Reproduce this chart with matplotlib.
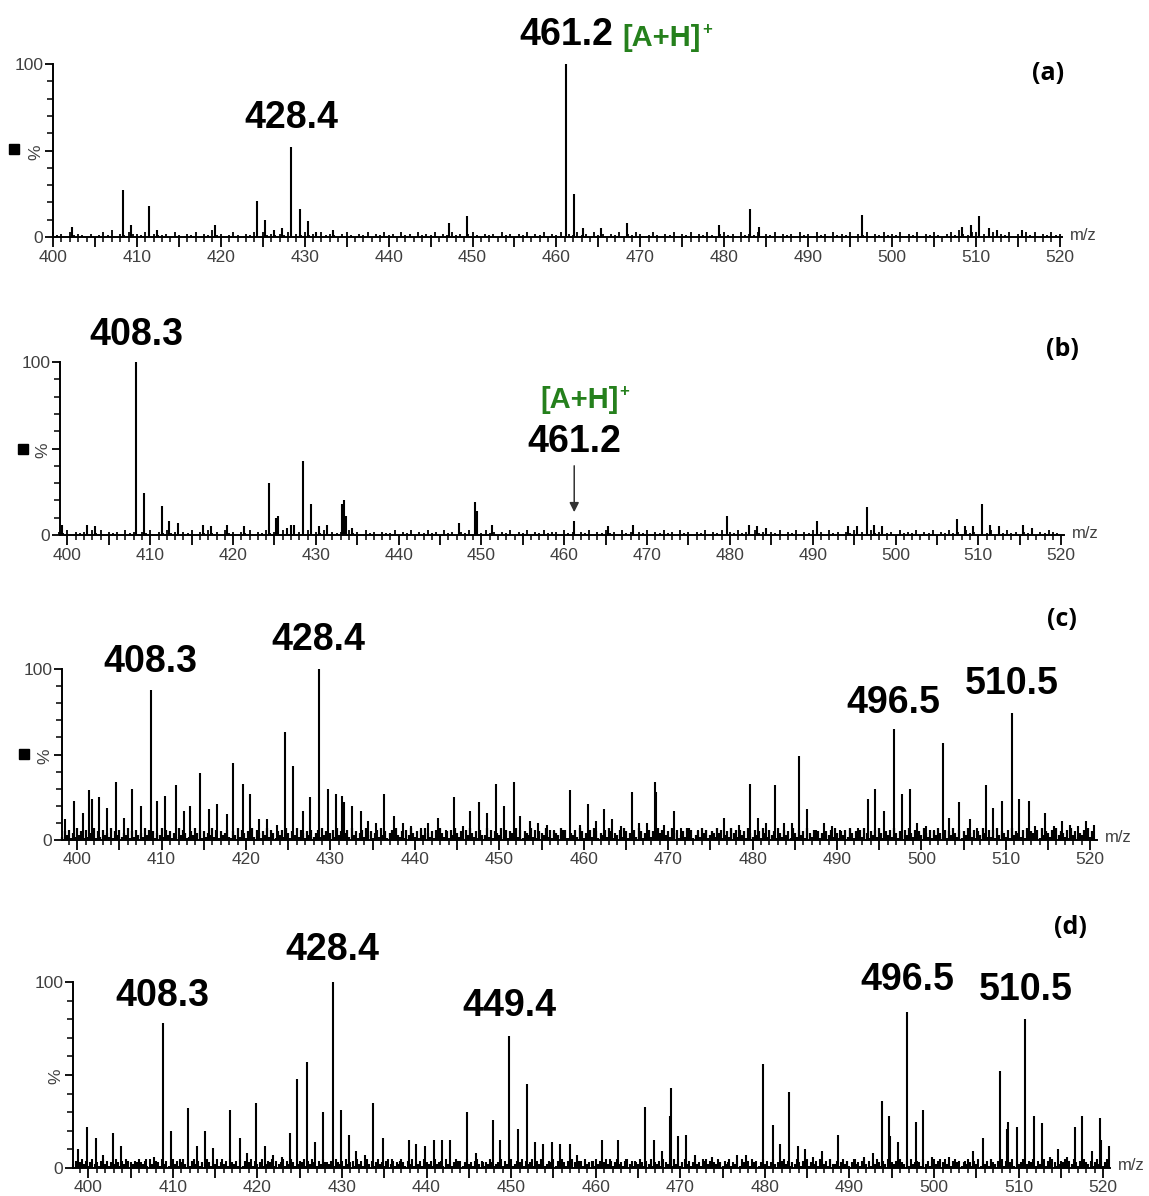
import matplotlib.pyplot as plt
import numpy as np
from matplotlib.ticker import MultipleLocator, FuncFormatter

plt.rcParams['font.family'] = ['Liberation Sans', 'DejaVu Sans']

W, H = 1149, 1196

# ---- panel (a) ----
a_peaks = [(402.3, 6), (408.3, 27), (409.3, 7), (411.4, 18), (412.4, 4), (419.3, 7),
           (424.3, 21), (425.3, 10), (426.3, 4), (427.3, 5), (428.4, 52), (429.4, 16),
           (430.4, 9), (431.3, 3), (433.4, 4), (447.2, 8), (449.3, 12), (461.2, 100),
           (462.1, 25), (463.2, 5), (465.3, 5), (468.4, 8), (479.4, 7), (483.1, 16),
           (484.2, 6), (496.4, 13), (508.3, 6), (509.4, 7), (510.4, 12), (511.5, 5),
           (512.5, 4), (515.5, 4)]
a_noise = ("31203121020131402132" "21302112031021302141" "20131021303121213021"
           "31203121023102130213" "12031203121302131202" "31021203120213021302"
           "13021312031202130213" "20131021302130213102" "31203121302130212031"
           "20312031213021302131" "21302130213102314213" "30213121302131302131" "2")
a_labels = [('461.2', 0, 29), ('428.4', 0, 29)]

# ---- panel (b) ----
b_peaks = [(399.3, 6), (402.4, 6), (403.3, 5), (408.3, 100), (409.3, 24), (411.4, 17),
           (412.3, 8), (413.3, 7), (416.4, 6), (417.3, 5), (419.3, 6), (421.3, 5),
           (424.3, 30), (425.2, 10), (425.4, 11), (426.5, 4), (427.0, 6), (427.3, 6),
           (428.4, 43), (429.4, 18), (430.4, 5), (431.4, 6), (433.2, 18), (433.4, 20),
           (433.6, 11), (434.4, 4), (447.3, 7), (449.2, 19), (449.4, 14), (451.3, 6),
           (461.2, 8), (465.3, 5), (468.3, 6), (479.6, 11), (482.3, 6), (483.3, 5),
           (484.3, 4), (490.5, 8), (494.3, 5), (495.3, 5), (496.5, 16), (497.4, 6),
           (498.4, 5), (507.4, 9), (508.4, 5), (509.4, 5), (510.5, 18), (511.4, 6),
           (512.5, 5), (515.4, 6), (516.5, 4)]
b_noise = ("2130212031302120312021302131202130213120"
           "3120213021312031202130213021203120312021"
           "1302130213120312021302131202130213021312"
           "2031202130213120312021302131203120213021"
           "3021312031202130213021312031202130213120"
           "1203121302130213120312021302131202130213" "21")
b_labels = [('408.3', 0, 27)]

# ---- panel (c) ----
c_peaks = [(398.6, 12), (399.6, 23), (400.7, 16), (401.4, 29), (401.7, 24), (402.6, 25),
           (403.5, 19), (404.6, 34), (405.5, 13), (406.5, 30), (407.5, 20), (408.7, 88),
           (409.5, 23), (410.4, 26), (411.7, 32), (412.7, 17), (413.4, 20), (414.5, 39),
           (415.6, 18), (416.6, 21), (417.7, 15), (418.5, 45), (419.6, 33), (420.5, 27),
           (421.5, 12), (422.5, 12), (423.7, 9), (424.6, 63), (425.6, 43), (426.7, 17),
           (427.6, 25), (428.6, 100), (429.7, 30), (430.6, 27), (431.4, 26), (431.6, 22),
           (432.5, 20), (433.6, 17), (434.5, 11), (435.4, 10), (436.4, 27), (437.5, 14),
           (438.6, 10), (439.5, 8), (440.7, 7), (441.5, 10), (442.7, 13), (443.7, 6),
           (444.6, 25), (445.7, 8), (446.5, 17), (447.6, 22), (448.5, 16), (449.6, 33),
           (450.6, 20), (451.7, 34), (452.5, 14), (453.6, 11), (454.6, 10), (455.6, 9),
           (456.5, 6), (457.5, 6), (458.4, 29), (459.5, 9), (460.5, 21), (461.5, 11),
           (462.4, 18), (463.3, 12), (464.4, 8), (465.7, 28), (466.6, 10), (467.5, 10),
           (468.5, 34), (468.6, 28), (469.5, 9), (470.7, 17), (471.5, 7), (472.5, 7),
           (473.5, 6), (474.5, 6), (475.4, 4), (476.6, 13), (477.5, 7), (478.4, 9),
           (479.7, 33), (480.7, 13), (481.6, 10), (482.7, 32), (483.7, 10), (484.7, 10),
           (485.5, 49), (486.4, 18), (487.5, 6), (488.5, 10), (489.4, 8), (490.4, 6),
           (491.5, 6), (492.5, 7), (493.7, 24), (494.5, 30), (495.6, 17), (496.7, 65),
           (497.7, 27), (498.6, 30), (499.5, 10), (500.6, 8), (501.5, 6), (502.5, 57),
           (503.3, 13), (504.4, 22), (505.7, 12), (506.6, 7), (507.6, 32), (508.5, 19),
           (509.6, 23), (510.7, 74), (511.6, 24), (512.7, 23), (513.5, 8), (514.6, 16),
           (515.7, 8), (516.6, 11), (517.6, 9), (518.5, 8), (519.5, 11), (520.5, 9)]
c_noise = ("2536142735162437152634271536243715263427"
           "3625143726351427364125374615243726153462"
           "1537264153726415372641536274153726415362"
           "4627351462735146273514627351462735146273"
           "2516374251637425163742516374251637425163"
           "3726154372615437261543726154372615437261"
           "1436275143627514362751436275143627514362"
           "5274613527461352746135274613527461352746"
           "2635174263517426351742635174263517426351"
           "4153627415362741536274153627415362741536"
           "3742615374261537426153742615374261537426"
           "2617354261735426173542617354261735426173"
           "524361725")
c_labels = [('408.3', 0, 28), ('428.4', 0, 29), ('496.5', 0, 26), ('510.5', 0, 29)]

# ---- panel (d) ----
d_peaks = [(398.8, 10), (399.8, 22), (400.9, 16), (401.8, 7), (402.9, 19), (403.9, 12),
           (404.7, 4), (405.8, 3), (406.8, 5), (407.8, 6), (408.8, 78), (409.8, 20),
           (410.9, 5), (411.8, 32), (412.9, 12), (413.8, 20), (414.8, 11), (415.8, 5),
           (416.8, 31), (417.9, 16), (418.8, 8), (419.8, 35), (420.9, 12), (421.8, 7),
           (422.9, 6), (423.9, 19), (424.7, 48), (425.9, 57), (426.8, 14), (427.7, 30),
           (428.9, 100), (429.9, 31), (430.8, 18), (431.7, 9), (432.7, 7), (433.7, 35),
           (434.9, 16), (435.9, 5), (436.9, 4), (437.9, 15), (438.8, 13), (439.8, 12),
           (440.9, 15), (441.8, 15), (442.8, 15), (443.7, 4), (444.8, 30), (445.9, 8),
           (446.7, 3), (447.8, 26), (448.7, 15), (449.8, 71), (450.8, 21), (451.9, 45),
           (452.8, 14), (453.8, 13), (454.8, 14), (455.8, 13), (456.9, 13), (457.8, 7),
           (458.7, 4), (459.7, 4), (460.8, 15), (461.7, 5), (462.6, 15), (463.6, 5),
           (464.7, 4), (465.8, 33), (466.9, 15), (467.8, 9), (468.9, 43), (468.8, 28),
           (469.7, 17), (470.7, 18), (471.7, 7), (472.7, 5), (473.7, 6), (474.7, 3),
           (475.6, 3), (476.7, 7), (477.8, 7), (478.7, 3), (479.8, 56), (481.0, 23),
           (481.8, 13), (482.9, 41), (483.9, 12), (484.8, 10), (485.7, 6), (486.8, 9),
           (487.7, 5), (488.7, 18), (489.7, 4), (490.7, 5), (491.7, 6), (492.8, 8),
           (493.8, 36), (494.7, 28), (494.8, 17), (495.7, 14), (496.8, 84), (497.9, 25),
           (498.7, 31), (499.8, 6), (500.7, 5), (501.8, 6), (502.7, 3), (503.7, 4),
           (504.6, 9), (505.8, 16), (506.7, 5), (507.8, 52), (508.7, 25), (508.6, 21),
           (509.8, 22), (510.8, 80), (511.8, 28), (512.8, 24), (513.7, 6), (514.7, 10),
           (515.7, 6), (516.7, 22), (517.5, 28), (518.7, 9), (519.6, 27), (519.7, 15),
           (520.7, 12)]
d_noise = ("2413524135231452413253142513241532415234"
           "3152413524135231452413253142513241532415"
           "1423514235124351423514253124351425314253"
           "3241532415234152413524135231452413253142"
           "5132415324152341524135241352314524132531"
           "2351423512435142351425312435142531425314"
           "4152341524135241352314524132531425132415"
           "3241524135241352314524132531425132415324"
           "1524135241352314524132531425132415324152"
           "2413524135231452413253142513241532415234"
           "3152413524135231452413253142513241532415"
           "1423514235124351423514253124351425314253"
           "2413524135")
d_labels = [('408.3', 0, 27), ('428.4', 0, 32), ('449.4', 0, 30), ('496.5', 0, 32), ('510.5', 0, 29)]

GREEN = '#25801c'
GREY = '#404040'

fig = plt.figure(figsize=(W / 100, H / 100), dpi=100)


def px_axes(left, right, top, bottom):
    return fig.add_axes([left / W, 1 - bottom / H, (right - left) / W, (bottom - top) / H])


def spectrum(ax, peaks, noise, n_start, n_step, xlim, labels, noise_lw=1.3):
    nm = n_start + n_step * np.arange(len(noise))
    nh = np.array([int(c) for c in noise])
    keep = (nm <= xlim[1]) & (nh > 0)
    ax.vlines(nm[keep], 0, nh[keep], color='black', lw=noise_lw, clip_on=False)
    pm, ph = map(np.array, zip(*peaks))
    ax.vlines(pm, 0, ph, color='black', lw=1.5, clip_on=False)

    ax.set_xlim(*xlim)
    ax.set_ylim(0, 100)
    for s in ('top', 'right'):
        ax.spines[s].set_visible(False)
    for s in ('left', 'bottom'):
        ax.spines[s].set_linewidth(1.4)
    ax.patch.set_alpha(0)

    ax.xaxis.set_major_locator(MultipleLocator(5))
    ax.xaxis.set_minor_locator(MultipleLocator(1))
    ax.xaxis.set_major_formatter(FuncFormatter(
        lambda v, p: f'{v:.0f}' if round(v) % 10 == 0 else ''))
    ax.set_yticks([0, 50, 100])
    ax.set_yticklabels(['0', '%', '100'])
    ax.get_yticklabels()[1].set_rotation(90)
    ax.get_yticklabels()[1].set_fontsize(10)
    ax.yaxis.set_minor_locator(MultipleLocator(10))
    ax.tick_params(axis='x', which='major', length=7, width=1.3, pad=2,
                   labelsize=12.5, labelcolor=GREY)
    ax.tick_params(axis='x', which='minor', length=3.5, width=1.1)
    ax.tick_params(axis='y', which='major', length=6, width=1.3, pad=1,
                   labelsize=12.5, labelcolor=GREY)
    ax.tick_params(axis='y', which='minor', length=4, width=1.1)

    ax.annotate('m/z', xy=(1, 0), xycoords='axes fraction', xytext=(8, 2),
                textcoords='offset pixels', ha='left', va='center',
                fontsize=12, color=GREY)

    # peak labels: sit on the tallest peak within 1 unit of the labelled m/z
    for text, dx, dy in labels:
        v = float(text)
        near = np.abs(pm - v) <= 1.0
        i = np.flatnonzero(near)[np.argmax(ph[near])]
        ax.annotate(text, xy=(pm[i], ph[i]), xytext=(dx, dy), textcoords='offset pixels',
                    ha='center', va='center', fontsize=27, fontweight='bold',
                    annotation_clip=False)


def adduct(ax, x, y, dx, dy, ha):
    t = ax.annotate('[A+H]', xy=(x, y), xytext=(dx, dy), textcoords='offset pixels',
                    ha=ha, va='center', fontsize=21, fontweight='bold', color=GREEN,
                    annotation_clip=False)
    ax.annotate('+', xy=(1, 1), xycoords=t, xytext=(1, 2), textcoords='offset pixels',
                ha='left', va='top', fontsize=12, fontweight='bold', color=GREEN,
                annotation_clip=False)


ax_a = px_axes(53, 1061.5, 64, 237)
spectrum(ax_a, a_peaks, a_noise, 400.0, 0.5, (400.0, 520.2), a_labels)
adduct(ax_a, 461.2, 100, 56, 26, 'left')

ax_b = px_axes(60, 1063.6, 362, 535)
spectrum(ax_b, b_peaks, b_noise, 399.0, 0.5, (399.1, 520.3), b_labels)
ax_b.annotate('', xy=(461.2, 11.6), xytext=(461.2, 41.6),
              arrowprops=dict(arrowstyle='-|>', color='#333333', lw=1.1,
                              mutation_scale=14))
ax_b.annotate('461.2', xy=(461.2, 0), xytext=(0, 93), textcoords='offset pixels',
              ha='center', va='center', fontsize=27, fontweight='bold',
              annotation_clip=False)
adduct(ax_b, 461.2, 0, 5, 135, 'center')

ax_c = px_axes(62, 1097, 669, 840)
spectrum(ax_c, c_peaks, c_noise, 398.25, 0.25, (398.2, 520.8), c_labels, noise_lw=1.6)

ax_d = px_axes(73, 1110, 982, 1168)
spectrum(ax_d, d_peaks, d_noise, 398.25, 0.25, (398.2, 520.8), d_labels, noise_lw=1.5)

# panel letters
for txt, x, y in [('(a)', 1048, 73), ('(b)', 1062, 350), ('(c)', 1062, 619), ('(d)', 1070, 928)]:
    fig.text(x / W, 1 - y / H, txt, ha='center', va='center', fontsize=18,
             fontweight='bold', family=['Open Sans', 'DejaVu Sans'])

# small black squares left of the % label
for x, y in [(14, 149), (23, 449), (24, 754)]:
    fig.add_artist(plt.Line2D([x / W], [1 - y / H], marker='s', ms=7, color='black',
                              transform=fig.transFigure))

fig.savefig('out.png', dpi=100)
